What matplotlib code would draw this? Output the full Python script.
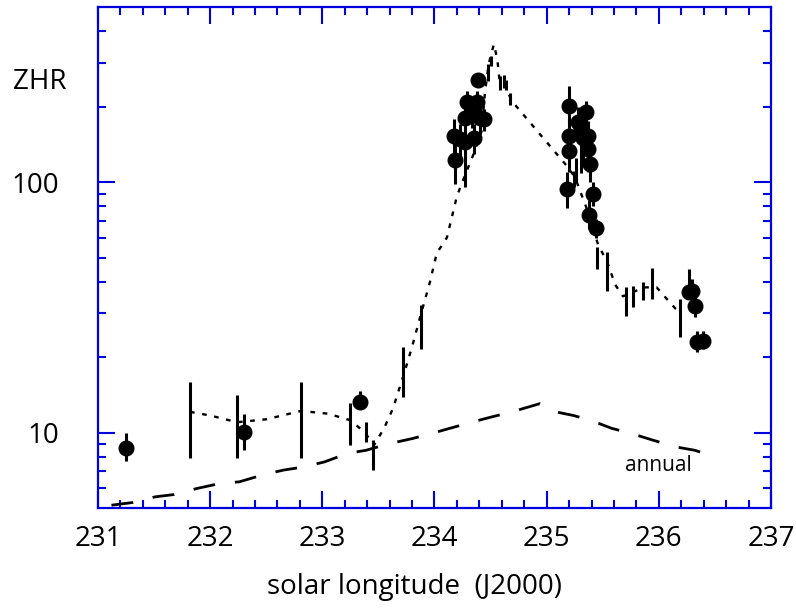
import numpy as np
import matplotlib.pyplot as plt
from matplotlib.ticker import MultipleLocator, NullFormatter

plt.rcParams['font.family'] = ['Open Sans', 'DejaVu Sans']

# visual ZHR, filled circles (x, ZHR, lower, upper)
obs_x = [231.25, 232.30, 233.34,
         234.17, 234.18, 234.23, 234.27, 234.35, 234.29, 234.27, 234.33,
         234.38, 234.41, 234.44, 234.39,
         235.20, 235.35, 235.20, 235.20, 235.18, 235.28, 235.31, 235.32,
         235.37, 235.37, 235.39, 235.41, 235.38, 235.44,
         236.27, 236.30, 236.32, 236.34, 236.39]
obs_y = [8.7, 10.1, 13.25,
         153, 122, 148, 144, 150, 208, 181, 189,
         208, 181, 178, 256,
         201, 191, 153, 133, 94, 173, 163, 150,
         153, 135, 118, 90, 74, 65.4,
         36.4, 36.9, 32.0, 23.0, 23.3]
obs_lo = [7.7, 8.56, 12.6,
          125, 98, 122, 96, 130, 185, 160, 165,
          180, 155, 160, 240,
          170, 170, 130, 110, 79, 150, 109, 115,
          130, 110, 100, 80, 65, 60,
          34.6, 33, 29, 21, 21.5]
obs_hi = [10.0, 11.9, 14.7,
          178, 150, 170, 165, 170, 230, 200, 210,
          230, 200, 195, 272,
          242, 210, 180, 155, 110, 200, 185, 170,
          175, 155, 135, 100, 85, 71,
          45, 41, 35, 25.5, 25.5]

# second data set, error bars only
bar_x = [231.82, 232.24, 232.81, 233.25, 233.39, 233.45, 233.72, 233.88,
         234.48, 234.50, 234.58, 234.62, 234.64, 234.67,
         235.24, 235.26,
         235.45, 235.54, 235.71, 235.77, 235.86, 235.94, 236.19]
bar_y = [12.1, 11.0, 12.2, 11.2, 10.06, 8.64, 16.7, 29.8,
         272, 304, 250, 252, 245, 215,
         103, 112,
         50, 44, 33.5, 35, 36.5, 39.5, 30]
bar_lo = [7.93, 7.93, 7.93, 8.96, 9.18, 7.07, 13.9, 21.6,
          253, 290, 234, 237, 234, 204,
          96, 100,
          45, 36.9, 29.3, 31.6, 33.7, 34.2, 24.1]
bar_hi = [15.9, 14.1, 15.9, 13.1, 11.0, 9.32, 21.9, 32.4,
          295, 318, 265, 268, 256, 227,
          111, 125,
          55, 52.5, 38.1, 38.6, 39.8, 45.6, 34.2]

# dotted profile
prof_x = [231.82, 232.0, 232.24, 232.5, 232.81, 233.05, 233.25, 233.38, 233.46,
          233.55, 233.63, 233.72, 233.80, 233.88, 233.96, 234.02, 234.11, 234.15,
          234.20, 234.27, 234.35, 234.42, 234.45, 234.48, 234.50, 234.53, 234.56,
          234.58, 234.62, 234.66, 234.70, 235.18, 235.25, 235.35, 235.46, 235.54,
          235.61, 235.68, 235.75, 235.86, 235.98, 236.07, 236.15, 236.20]
prof_y = [12.1, 11.7, 11.0, 11.3, 12.2, 11.9, 11.2, 10.0, 8.9,
          10.4, 12.5, 16.7, 22, 29.8, 40, 52, 60, 71,
          88, 106, 130, 160, 228, 290, 318, 355, 309,
          255, 252, 225, 208, 116, 105, 80, 56, 48,
          39, 35, 36, 38, 38, 34.2, 31.2, 30]

# annual background
ann_x = [231.12, 231.31, 231.51, 231.68, 231.88, 232.09, 232.26, 232.46, 232.65,
         232.84, 233.02, 233.22, 233.39, 233.60, 233.80, 233.97, 234.17, 234.33,
         234.51, 234.69, 234.94, 235.08, 235.24, 235.39, 235.58, 235.76, 235.95,
         236.15, 236.32, 236.41]
ann_y = [5.13, 5.26, 5.54, 5.66, 5.98, 6.27, 6.36, 6.76, 7.08,
         7.30, 7.64, 8.25, 8.50, 9.04, 9.46, 9.91, 10.5, 11.0,
         11.55, 12.1, 13.05, 12.1, 11.7, 11.2, 10.4, 9.9, 9.32,
         8.77, 8.50, 8.25]

blue = '#0000DD'

fig = plt.figure(figsize=(7.96, 6.15), dpi=100)
ax = fig.add_axes([98 / 796, 1 - 508 / 615, 673 / 796, 501 / 615])

ax.plot(ann_x, ann_y, color='k', lw=2, linestyle=(0, (7.9, 7.2)))
ax.plot(prof_x, prof_y, color='k', lw=1.7, linestyle=(0, (2.0, 3.2)))

by = np.array(bar_y)
ax.errorbar(bar_x, bar_y, yerr=[by - np.array(bar_lo), np.array(bar_hi) - by],
            fmt='none', ecolor='k', elinewidth=2.2, capsize=0)
oy = np.array(obs_y)
ax.errorbar(obs_x, obs_y, yerr=[oy - np.array(obs_lo), np.array(obs_hi) - oy],
            fmt='o', color='k', ms=10.5, elinewidth=2.2, capsize=0)

ax.text(236.0, 7.4, 'annual', fontsize=15, ha='center', va='center')

ax.set_yscale('log')
ax.set_xlim(231, 237)
ax.set_ylim(5, 500)

ax.set_xticks([231, 232, 233, 234, 235, 236, 237])
ax.xaxis.set_minor_locator(MultipleLocator(0.2))
ax.set_yticks([10, 100])
ax.set_yticklabels(['10', '100'])
ax.set_yticks([6, 7, 8, 9, 20, 30, 40, 50, 60, 70, 80, 90, 200, 300, 400], minor=True)
ax.yaxis.set_minor_formatter(NullFormatter())

for s in ax.spines.values():
    s.set_color(blue)
    s.set_linewidth(1.6)
ax.tick_params(which='both', direction='in', color=blue, width=1.5,
               top=True, right=True, labelsize=20)
ax.tick_params(which='major', length=12)
ax.tick_params(which='minor', length=6)
ax.tick_params(axis='x', pad=12)
ax.tick_params(axis='y', pad=28)

ax.set_xlabel('solar longitude  (J2000)', fontsize=20)
ax.xaxis.set_label_coords(0.471, -0.13)
fig.text(40 / 796, 1 - 82 / 615, 'ZHR', fontsize=20, ha='center', va='center')

fig.savefig('out.png', dpi=100)
